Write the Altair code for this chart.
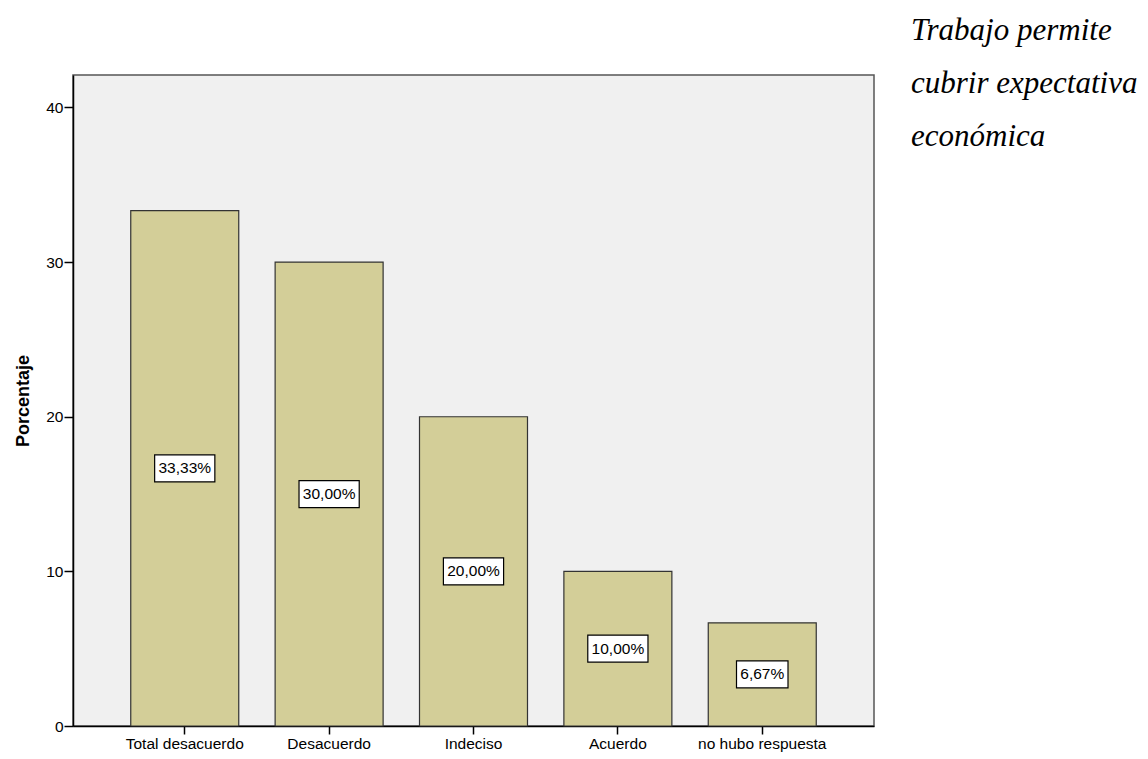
import altair as alt
import pandas as pd

categories = ["Total desacuerdo", "Desacuerdo", "Indeciso", "Acuerdo", "no hubo respuesta"]
percentages = [33.33, 30.00, 20.00, 10.00, 6.67]
labels = ["33,33%", "30,00%", "20,00%", "10,00%", "6,67%"]
y_ticks = [0, 10, 20, 30, 40]
title_text = "Trabajo permite\ncubrir expectativa\neconómica"

df = pd.DataFrame({"cat": categories, "pct": percentages, "label": labels})

FONT = "Liberation Sans"
FS = 15.5

x_enc = alt.X("cat:N", sort=categories,
              scale=alt.Scale(paddingInner=0.252, paddingOuter=0.40),
              axis=alt.Axis(title=None, labelAngle=0, labelFontSize=FS, labelFont=FONT,
                            labelColor="#000", tickSize=8, tickColor="#000", domainColor="#000",
                            tickWidth=1.5, domainWidth=1.5, labelPadding=2))
y_scale = alt.Scale(domain=[0, 42.1], nice=False)

bars = alt.Chart(df).mark_bar(color="#D3CE98", stroke="#333", strokeWidth=1.2).encode(
    x=x_enc,
    y=alt.Y("pct:Q", scale=y_scale,
            axis=alt.Axis(title="Porcentaje", values=y_ticks, grid=False, titleFontSize=18,
                          titleFont=FONT, titleFontWeight="bold", titleColor="#000",
                          labelFontSize=FS, labelFont=FONT, labelColor="#000",
                          tickSize=9, tickColor="#000", domainColor="#000",
                          tickWidth=1.5, domainWidth=1.5, labelPadding=1, titlePadding=13)),
)

base = alt.Chart(df).transform_calculate(
    mid="datum.pct / 2",
    w="length(datum.label) * 8.7 + 8",
).transform_calculate(
    boxsize="datum.w * datum.w",
    boxshape="'M-1,' + (-27 / datum.w) + 'H1V' + (27 / datum.w) + 'H-1Z'",
)

boxes = base.mark_point(
    filled=True, fill="white", stroke="#000", strokeWidth=1.2, opacity=1
).encode(
    x=alt.X("cat:N", sort=categories),
    y=alt.Y("mid:Q", scale=y_scale),
    size=alt.Size("boxsize:Q", scale=None, legend=None),
    shape=alt.Shape("boxshape:N", scale=None, legend=None),
)

texts = base.mark_text(fontSize=FS, font=FONT, color="#000").encode(
    x=alt.X("cat:N", sort=categories),
    y=alt.Y("mid:Q", scale=y_scale),
    text="label:N",
)

title = alt.Chart(pd.DataFrame({"t": [title_text]})).mark_text(
    font="Liberation Serif", fontStyle="italic", fontSize=31, align="left", baseline="alphabetic",
    lineBreak="\n", lineHeight=53, color="#000"
).encode(x=alt.value(838), y=alt.value(-35), text="t:N")

chart = alt.layer(bars, boxes, texts, title).properties(
    width=801, height=651,
    autosize=alt.AutoSizeParams(type="none"),
    padding={"left": 73, "top": 75, "right": 274, "bottom": 33},
    background="white",
).configure_view(fill="#F0F0F0", stroke="#555", strokeWidth=1.5)

chart.save("out.html", embed_options={"renderer": "svg", "actions": False})
